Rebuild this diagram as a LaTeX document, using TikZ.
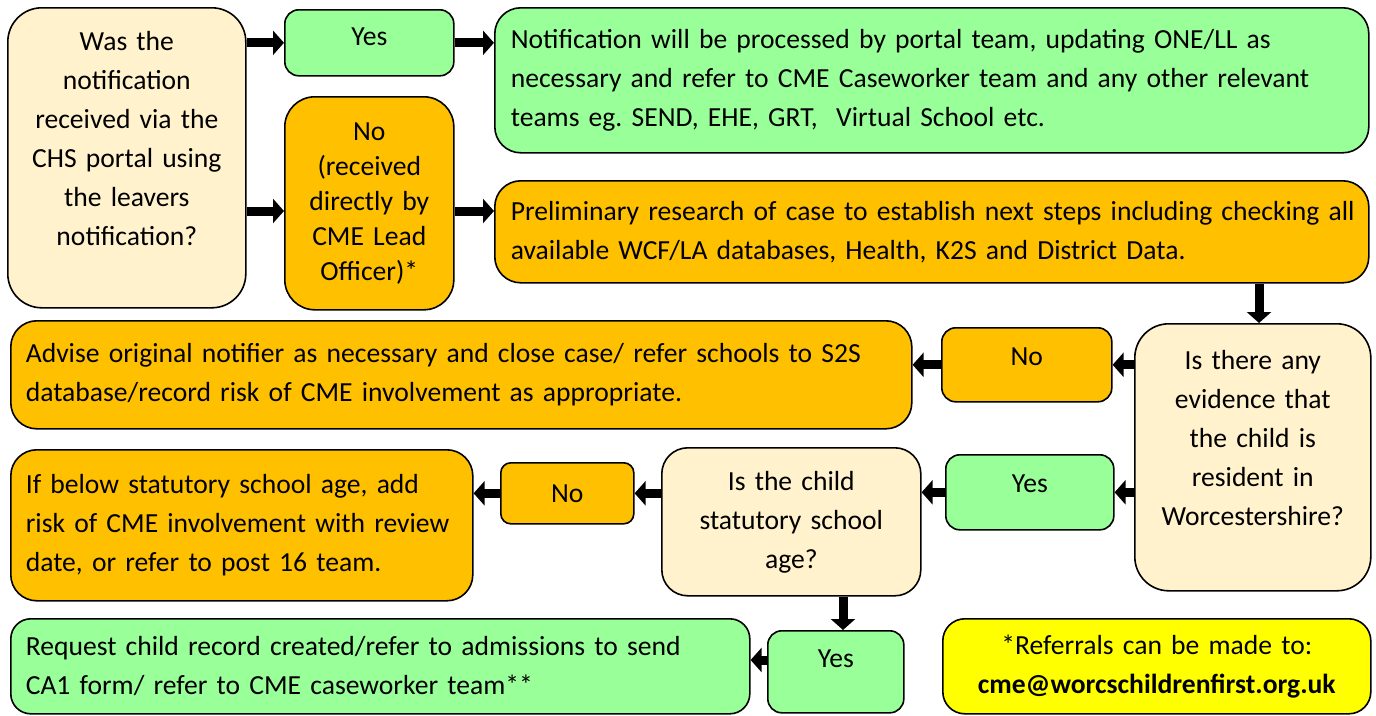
\documentclass[tikz,border=0pt]{standalone}
\usepackage{fontspec}
\setmainfont{Carlito}
\usepackage{tikz}
\usetikzlibrary{arrows.meta,positioning}
\definecolor{cream}{HTML}{FFF2CC}
\definecolor{lgreen}{HTML}{99FF99}
\definecolor{amber}{HTML}{FFC000}
\definecolor{lyellow}{HTML}{FFFF00}
\tikzset{
  box/.style={draw=black, line width=1.6pt, rounded corners=26pt, anchor=north west,
    font=\fontsize{27.6}{39}\selectfont\frenchspacing, inner xsep=16pt, inner ysep=0pt},
  question/.style={box, fill=cream, align=center, rounded corners=34pt},
  answer/.style={box, align=center, rounded corners=14pt},
  action/.style={box, align=left},
  flowarrow/.style={line width=9pt, -{Triangle[length=11pt,width=24pt]}}
}
\begin{document}
\begin{tikzpicture}[x=1pt,y=-1pt]
\useasboundingbox (0,0) rectangle (1376,715);
% nodes
\node[question, minimum width=238, minimum height=300, text width=216, inner xsep=11pt] (q1) at (7,7)
  {Was the\\notification\\received via the\\CHS portal using\\the leavers\\notification?\\ ~};
\node[answer, fill=lgreen, minimum width=169, minimum height=66, text width=137, text depth=12pt] (yes1) at (284,9) {Yes};
\node[action, fill=lgreen, minimum width=874, minimum height=145, text width=842] (notif) at (494,7)
  {Notification will be processed by portal team, updating ONE/LL as\\
   necessary and refer to CME Caseworker team and any other relevant\\
   teams eg. SEND, EHE, GRT,\ \ Virtual School etc.};
\node[answer, fill=amber, rounded corners=30pt, minimum width=169, minimum height=213, text width=155,
  inner xsep=7pt, font=\fontsize{27.6}{35}\selectfont] (no1) at (284,96)
  {No\\(received\\directly by\\CME Lead\\Officer)*};
\node[action, fill=amber, minimum width=874, minimum height=102, text width=842] (prelim) at (494,180)
  {\mbox{Preliminary research of case to establish next steps including checking all}\\
   available WCF/LA databases, Health, K2S and District Data.};
\node[question, minimum width=236, minimum height=267, text width=216, inner xsep=10pt] (q2) at (1134,323)
  {Is there any\\evidence that\\the child is\\resident in\\Worcestershire?\\ ~};
\node[answer, fill=amber, minimum width=170, minimum height=74, text width=138, text depth=16pt] (no2) at (941,327) {No};
\node[action, fill=amber, minimum width=901, minimum height=108, text width=871, inner xsep=15pt] (advise) at (10,320)
  {Advise original notifier as necessary and close case/ refer schools to S2S\\
   database/record risk of CME involvement as appropriate.};
\node[answer, fill=lgreen, minimum width=168, minimum height=75, text width=136, text depth=17pt] (yes2) at (945,454) {Yes};
\node[question, rounded corners=26pt, minimum width=259, minimum height=148, text width=227] (q3) at (661,447)
  {Is the child\\statutory school\\age?};
\node[answer, fill=amber, rounded corners=10pt, minimum width=133, minimum height=61, text width=101] (no3) at (500,462) {No};
\node[action, fill=amber, minimum width=462, minimum height=151, text width=432, inner xsep=15pt] (below) at (10,449)
  {If below statutory school age, add\\
   risk of CME involvement with review\\
   date, or refer to post 16 team.};
\node[answer, fill=lgreen, minimum width=136, minimum height=82, text width=104, text depth=27pt] (yes3) at (767,630) {Yes};
\node[action, fill=lgreen, rounded corners=20pt, minimum width=739, minimum height=95, text width=709, inner xsep=15pt] (request) at (10,618)
  {Request child record created/refer to admissions to send\\
   CA1 form/ refer to CME caseworker team**};
\node[box, fill=lyellow, align=center, rounded corners=22pt, minimum width=428, minimum height=95, text width=396] (refer) at (942,618)
  {*Referrals can be made to:\\\textbf{cme@worcschildrenfirst.org.uk}};
% edges
\draw[flowarrow] (q1.east |- yes1.west) -- (yes1.west);
\draw[flowarrow] (yes1.east) -- (notif.west |- yes1.east);
\draw[flowarrow] (q1.east |- 0,211) -- (no1.west |- 0,211);
\draw[flowarrow] (no1.east |- 0,211) -- (prelim.west |- 0,211);
\draw[flowarrow] (prelim.south -| 1259,0) -- (q2.north -| 1259,0);
\draw[flowarrow] (q2.west |- no2.west) -- (no2.east);
\draw[flowarrow] (no2.west) -- (advise.east |- no2.west);
\draw[flowarrow] (q2.west |- yes2.west) -- (yes2.east);
\draw[flowarrow] (yes2.west) -- (q3.east |- yes2.west);
\draw[flowarrow] (q3.west |- no3.west) -- (no3.east);
\draw[flowarrow] (no3.west) -- (below.east |- no3.west);
\draw[flowarrow] (q3.south -| 843,0) -- (yes3.north -| 843,0);
\draw[flowarrow] (yes3.west |- 0,660) -- (request.east |- 0,660);
\end{tikzpicture}
\end{document}
